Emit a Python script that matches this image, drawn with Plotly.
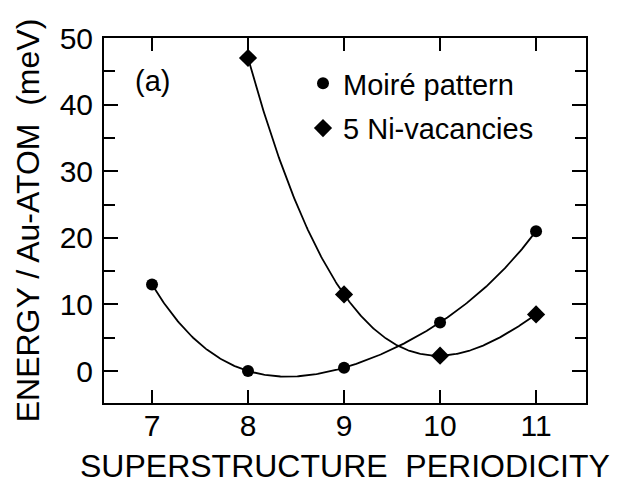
import numpy as np
import plotly.graph_objects as go

# Data
moire_x = [7, 8, 9, 10, 11]
moire_y = [13.0, 0.0, 0.5, 7.3, 21.0]
vac_x = [8, 9, 10, 11]
vac_y = [47.0, 11.5, 2.3, 8.5]

x_ticks = [7, 8, 9, 10, 11]
y_ticks = [0, 10, 20, 30, 40, 50]
y_minor = [5, 15, 25, 35, 45]

FONT = "Liberation Sans, Arial, Helvetica, sans-serif"

# plot-area geometry (px)
L, R, T, B = 104, 586, 38, 403
PW, PH = R - L, B - T


def smooth(xs, ys):
    # polynomial interpolation through the data points
    coef = np.polyfit(xs, ys, len(xs) - 1)
    xx = np.linspace(min(xs), max(xs), 300)
    return xx, np.polyval(coef, xx)


fig = go.Figure()

mx, my = smooth(moire_x, moire_y)
vx, vy = smooth(vac_x, vac_y)

fig.add_trace(go.Scatter(x=mx, y=my, mode="lines", line=dict(color="black", width=1.8),
                         showlegend=False, hoverinfo="skip"))
fig.add_trace(go.Scatter(x=vx, y=vy, mode="lines", line=dict(color="black", width=1.8),
                         showlegend=False, hoverinfo="skip"))
fig.add_trace(go.Scatter(x=moire_x, y=moire_y, mode="markers", name="Moiré pattern",
                         marker=dict(symbol="circle", size=12, color="black"),
                         legendgroup="a"))
fig.add_trace(go.Scatter(x=vac_x, y=vac_y, mode="markers", name="5 Ni-vacancies",
                         marker=dict(symbol="diamond", size=14, color="black"),
                         legendgroup="b"))

fig.add_annotation(text="(a)", x=(152 - L) / PW, y=(B - 81) / PH, xref="paper", yref="paper",
                   showarrow=False, xanchor="center", yanchor="middle",
                   font=dict(size=29, color="black", family=FONT))

# x-axis title, placed explicitly below the tick labels
fig.add_annotation(text="SUPERSTRUCTURE  PERIODICITY", x=(345 - L) / PW, y=(B - 466) / PH,
                   xref="paper", yref="paper", showarrow=False,
                   xanchor="center", yanchor="middle",
                   font=dict(size=32, color="black", family=FONT))

axis_common = dict(
    showgrid=False, zeroline=False, showline=True, linecolor="black", linewidth=2,
    ticks="inside", tickcolor="black", tickwidth=2, mirror="ticks",
    tickfont=dict(size=30, color="black", family=FONT),
)

fig.update_xaxes(
    range=[6.5, 11.52], tickmode="array", tickvals=x_ticks, ticktext=[str(v) for v in x_ticks],
    ticklen=13, ticklabelstandoff=-5,
    **axis_common,
)
fig.update_yaxes(
    range=[-4.8, 50], tickmode="array", tickvals=y_ticks, ticktext=[str(v) for v in y_ticks],
    ticklen=14, ticklabelstandoff=3,
    minor=dict(tickvals=y_minor, ticks="inside", ticklen=11, tickcolor="black", tickwidth=2),
    title=dict(text="ENERGY / Au-ATOM  (meV)", font=dict(size=32, color="black", family=FONT),
               standoff=10),
    **axis_common,
)

fig.update_layout(
    width=618, height=486,
    margin=dict(l=L, r=618 - R, t=T, b=486 - B, autoexpand=False),
    paper_bgcolor="white", plot_bgcolor="white",
    font=dict(family=FONT, color="black"),
    legend=dict(x=(303 - L) / PW, y=(B - 58) / PH, xanchor="left", yanchor="top",
                bgcolor="rgba(0,0,0,0)", borderwidth=0,
                font=dict(size=29, color="black", family=FONT),
                traceorder="grouped", tracegroupgap=4, itemwidth=30),
)

fig.write_html("out.html", config={"displayModeBar": False},
               post_script="document.body.style.margin='0px';")
